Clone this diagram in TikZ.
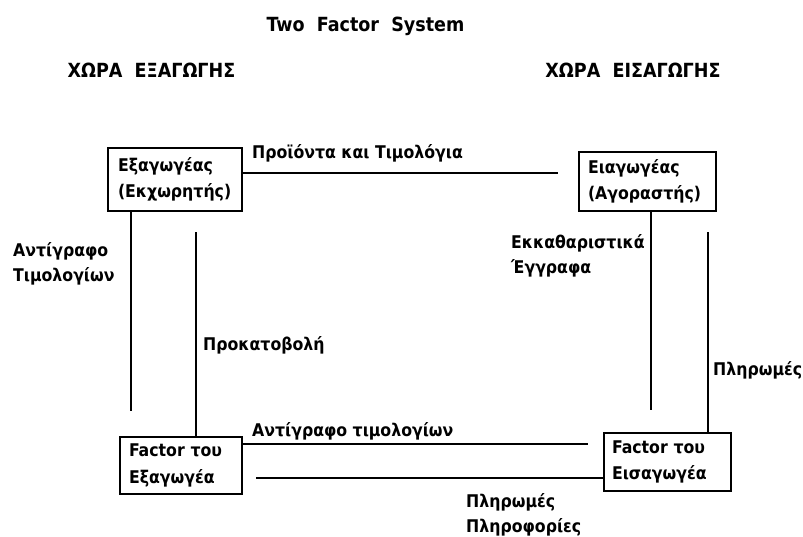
\documentclass[tikz,border=0pt]{standalone}
\usepackage{fontspec}
\setmainfont{DejaVu Sans Condensed}
\begin{document}
\begin{tikzpicture}[x=1pt,y=-1pt,
  lbl/.style={inner sep=0pt,anchor=base west,align=left,font=\fontsize{17.5}{25}\selectfont\bfseries},
  head/.style={inner sep=0pt,anchor=base,font=\fontsize{19.5}{24}\selectfont\bfseries},
  box/.style={draw,line width=2.6pt,align=left,inner ysep=0pt,font=\fontsize{17.5}{26.5}\selectfont\bfseries},
  conn/.style={line width=2.2pt}]
\useasboundingbox (0,0) rectangle (803,536);
% headings
\node[head] (title) at (365.5,31) {Two~~Factor~~System};
\node[head] (exphead) at (151.5,77.5) {ΧΩΡΑ~~ΕΞΑΓΩΓΗΣ};
\node[head] (imphead) at (633,77.5) {ΧΩΡΑ~~ΕΙΣΑΓΩΓΗΣ};
% boxes
\node[box,inner xsep=10pt,text width=114pt,minimum width=134pt,minimum height=63pt] (exp) at (175,179.5) {Εξαγωγέας\\(Εκχωρητής)};
\node[box,inner xsep=9pt,text width=119pt,minimum width=137pt,minimum height=59pt] (imp) at (647.5,181.5) {Ειαγωγέας\\(Αγοραστής)};
\node[box,inner xsep=9pt,text width=104pt,minimum width=122pt,minimum height=57pt] (fexp) at (181,465.5) {Factor του\\Εξαγωγέα};
\node[box,inner xsep=8pt,text width=111pt,minimum width=127pt,minimum height=58pt] (fimp) at (667.5,462) {Factor του\\Εισαγωγέα};
% free ends
\coordinate (e1) at (558,173);
\coordinate (a1) at (131,411);
\coordinate (b1) at (196,232);
\coordinate (c1) at (651,410);
\coordinate (d1) at (708,232);
\coordinate (f1) at (588,444);
\coordinate (g1) at (256,478);
% connectors
\draw[conn] (e1 -| exp.east) -- (e1);
\draw[conn] (exp.south -| a1) -- (a1);
\draw[conn] (b1) -- (b1 |- fexp.north);
\draw[conn] (imp.south -| c1) -- (c1);
\draw[conn] (d1) -- (d1 |- fimp.north);
\draw[conn] (f1 -| fexp.east) -- (f1);
\draw[conn] (g1) -- (g1 -| fimp.west);
% labels (multi-line: coordinate is the baseline of the last line)
\node[lbl] (l1) at (252,158.5) {Προϊόντα και Τιμολόγια};
\node[lbl] (l2) at (13,281) {Αντίγραφο\\Τιμολογίων};
\node[lbl] (l3) at (203,350) {Προκατοβολή};
\node[lbl] (l4) at (511,273) {Εκκαθαριστικά\\Έγγραφα};
\node[lbl] (l5) at (713,375) {Πληρωμές};
\node[lbl] (l6) at (252,436) {Αντίγραφο τιμολογίων};
\node[lbl] (l7) at (466,532) {Πληρωμές\\Πληροφορίες};
\end{tikzpicture}
\end{document}
